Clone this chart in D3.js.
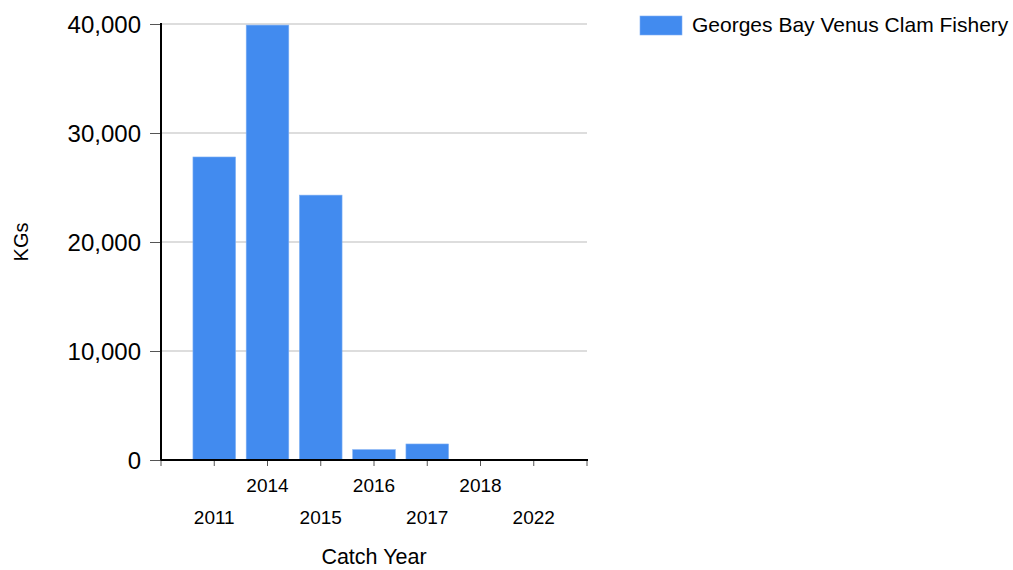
<!DOCTYPE html>
<html><head><meta charset="utf-8">
<script src="https://cdn.jsdelivr.net/npm/d3@7"></script>
<style>body{margin:0;background:#fff}svg{display:block;font-family:"Liberation Sans",Arial,sans-serif}</style>
</head><body><svg id="c" width="1013" height="570"></svg>
<script>
const years = ["2011","2014","2015","2016","2017","2018","2022"];
const kgs = [27800, 39900, 24300, 950, 1470, 0, 0];
const yTicks = [0, 10000, 20000, 30000, 40000];
const seriesName = "Georges Bay Venus Clam Fishery";

const svg = d3.select("#c");
const L = 161, R = 587, T = 24, B = 460;
const x = d3.scalePoint().domain(years).range([L, R]).padding(1);
const step = x.step();
const y = d3.scaleLinear().domain([0, 40000]).range([B, T]);

// gridlines
svg.append("g").selectAll("line").data(yTicks.filter(d => d > 0)).join("line")
  .attr("x1", L).attr("x2", R).attr("y1", d => y(d)).attr("y2", d => y(d))
  .attr("stroke", "#dddddd").attr("stroke-width", 2);

// bars
const bw = step * 0.8;
svg.append("g").selectAll("rect").data(years).join("rect")
  .attr("x", d => x(d) - bw / 2).attr("width", bw)
  .attr("y", (d, i) => y(kgs[i])).attr("height", (d, i) => B - y(kgs[i]))
  .attr("fill", "#428bef").attr("stroke", "#7fb0f3").attr("stroke-width", 0.6)
  .filter((d, i) => kgs[i] === 0).remove();

// y axis
const ya = svg.append("g").attr("transform", `translate(${L},0)`)
  .call(d3.axisLeft(y).tickValues(yTicks).tickFormat(d3.format(",")).tickSize(11).tickPadding(9));
ya.select(".domain").remove();
ya.selectAll(".tick line").attr("stroke", "#555");
ya.selectAll("text").attr("font-size", 24).attr("fill", "#000").attr("font-family", "Liberation Sans, Arial, sans-serif").attr("dy", "0.36em");
svg.append("line").attr("x1", L).attr("x2", L).attr("y1", T - 1).attr("y2", B + 1)
  .attr("stroke", "#000").attr("stroke-width", 2);

// x axis ticks
const tickPos = d3.range(years.length + 2).map(k => L + k * step);
svg.append("g").selectAll("line").data(tickPos).join("line")
  .attr("x1", d => d).attr("x2", d => d).attr("y1", B).attr("y2", B + 6)
  .attr("stroke", "#555").attr("stroke-width", 1);
svg.append("line").attr("x1", L).attr("x2", R + 1).attr("y1", B).attr("y2", B)
  .attr("stroke", "#000").attr("stroke-width", 2);
svg.append("g").selectAll("text").data(years).join("text")
  .attr("x", d => x(d)).attr("y", (d, i) => i % 2 === 1 ? 492 : 524)
  .attr("text-anchor", "middle").attr("font-size", 19).attr("fill", "#000").text(d => d);

// axis titles
svg.append("text").attr("x", L + (R - L) / 2).attr("y", 564).attr("text-anchor", "middle")
  .attr("font-size", 21.5).attr("fill", "#000").text("Catch Year");
svg.append("text").attr("transform", "translate(28,242) rotate(-90)").attr("text-anchor", "middle")
  .attr("font-size", 20).attr("fill", "#000").text("KGs");

// legend
svg.append("rect").attr("x", 640).attr("y", 16).attr("width", 42).attr("height", 19)
  .attr("fill", "#428bef").attr("stroke", "#7fb0f3").attr("stroke-width", 0.6);
svg.append("text").attr("x", 692).attr("y", 32).attr("font-size", 21).attr("fill", "#000").text(seriesName);
</script></body></html>
